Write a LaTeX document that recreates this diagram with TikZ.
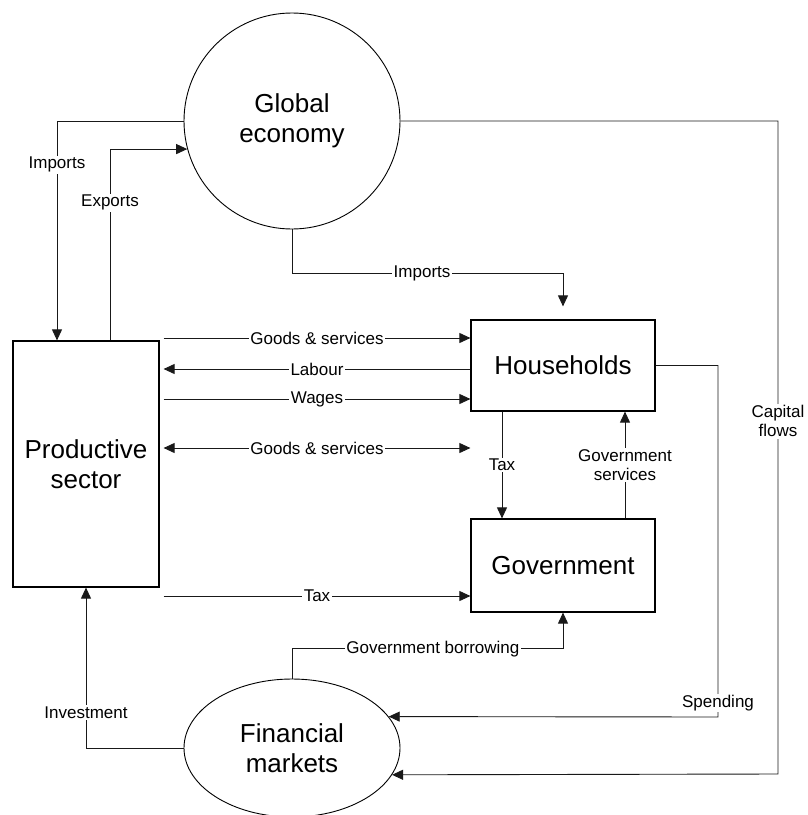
\documentclass[tikz,border=0pt]{standalone}
\usepackage{fontspec}
\setmainfont{Liberation Sans}
\usetikzlibrary{arrows.meta,shapes.geometric}

\tikzset{
  flow/.style={line width=0.9pt, draw=black!90},
  tip/.style={-{Triangle[length=11pt,width=10pt]}},
  lbl/.style={fill=white, inner sep=1.5pt, font=\fontsize{17}{19}\selectfont, align=center},
  sector/.style={draw, line width=1.2pt, font=\fontsize{26}{30}\selectfont, align=center}
}

\begin{document}
\begin{tikzpicture}[x=1pt, y=-1pt]
  \useasboundingbox (0,0) rectangle (808,815);

  % Sectors
  \node[sector, circle, line width=0.9pt, minimum size=216pt] (global) at (292,121) {Global\\economy};
  \node[sector, rectangle, minimum width=146pt, minimum height=246pt] (prod) at (86,464) {Productive\\sector};
  \node[sector, rectangle, minimum width=184pt, minimum height=91pt] (house) at (563,365.5) {Households};
  \node[sector, rectangle, minimum width=184pt, minimum height=93pt] (gov) at (563,565.5) {Government};
  \node[sector, ellipse, line width=0.9pt, minimum width=216pt, minimum height=138pt] (fin) at (292,748) {Financial\\markets};

  % Global economy and productive sector
  \draw[flow, tip] (global.west) -| node[lbl, pos=0.6] {Imports} ([xshift=-29pt]prod.north);
  \draw[flow, tip] ([xshift=24pt]prod.north) |- node[lbl, pos=0.36] {Exports} (global.195);
  \draw[flow, tip] (global.south) |- node[lbl, pos=0.74] {Imports} (563,273) -- ([yshift=13pt]house.north);

  % Productive sector and households
  \draw[flow, tip] ([xshift=4pt]prod.east |- 0,338) -- node[lbl] {Goods \& services} (house.west |- 0,338);
  \draw[flow, tip] (house.west |- 0,369) -- node[lbl] {Labour} ([xshift=4pt]prod.east |- 0,369);
  \draw[flow, tip] ([xshift=4pt]prod.east |- 0,399) -- node[lbl] {Wages} (house.west |- 0,399);

  % Productive sector and government
  \draw[flow, {Triangle[length=11pt,width=10pt]}-{Triangle[length=11pt,width=10pt]}] ([xshift=4pt]prod.east |- 0,448) -- node[lbl] {Goods \& services} (gov.west |- 0,448);
  \draw[flow, tip] ([xshift=4pt]prod.east |- 0,596) -- node[lbl] {Tax} (gov.west |- 0,596);

  % Households and government
  \draw[flow, tip] ([xshift=-61pt]house.south) -- node[lbl] {Tax} ([xshift=-61pt]gov.north);
  \draw[flow, tip] ([xshift=62pt]gov.north) -- node[lbl] {Government\\services} ([xshift=62pt]house.south);

  % Financial markets
  \draw[flow, tip] (fin.north) |- node[lbl, pos=0.76] {Government borrowing} ([yshift=-36pt]gov.south) -- (gov.south);
  \draw[flow, tip] (fin.west) -| node[lbl, pos=0.61] {Investment} (prod.south);
  \draw[flow, tip] (house.east) -| node[lbl, pos=0.98] {Spending} (718,717) -- (fin.18);
  \draw[flow, tip] (global.east) -| node[lbl, pos=0.73] {Capital\\flows} (778,774) -- (fin.345);
\end{tikzpicture}
\end{document}
